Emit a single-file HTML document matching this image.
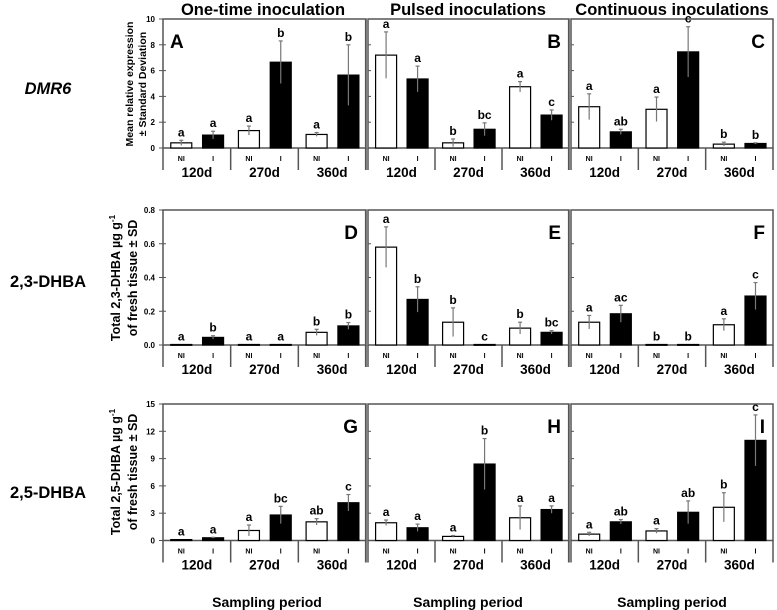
<!DOCTYPE html>
<html><head><meta charset="utf-8"><style>
body{margin:0;background:#fff}
svg{display:block;font-family:"Liberation Sans",Arial,sans-serif;font-weight:bold}
</style></head><body>
<svg id="fig" width="777" height="610" viewBox="0 0 777 610" xmlns="http://www.w3.org/2000/svg">
<text x="263" y="15" text-anchor="middle" font-size="16.5">One-time  inoculation</text>
<text x="468" y="15" text-anchor="middle" font-size="16.5">Pulsed  inoculations</text>
<text x="672" y="15" text-anchor="middle" font-size="16.5">Continuous  inoculations</text>
<text x="48" y="94" text-anchor="middle" font-size="16.5" font-style="italic">DMR6</text>
<text x="48" y="287" text-anchor="middle" font-size="16.5">2,3-DHBA</text>
<text x="48" y="498" text-anchor="middle" font-size="16.5">2,5-DHBA</text>
<g transform="translate(133,84) rotate(-90)" font-size="10.5" text-anchor="middle"><text x="0" y="0">Mean relative expression</text><text x="0" y="13">± Standard Deviation</text></g>
<g transform="translate(120,278) rotate(-90)" font-size="12.5" text-anchor="middle"><text x="0" y="0">Total 2,3-DHBA µg g<tspan dy="-5" font-size="8">-1</tspan></text><text x="0" y="17">of fresh tissue ± SD</text></g>
<g transform="translate(120,472) rotate(-90)" font-size="12.5" text-anchor="middle"><text x="0" y="0">Total 2,5-DHBA µg g<tspan dy="-5" font-size="8">-1</tspan></text><text x="0" y="17">of fresh tissue ± SD</text></g>
<text x="267" y="607" text-anchor="middle" font-size="14">Sampling period</text>
<text x="468" y="607" text-anchor="middle" font-size="14">Sampling period</text>
<text x="672" y="607" text-anchor="middle" font-size="14">Sampling period</text>
</svg>
<script>
const periods=["120d","270d","360d"];
const treatments=["NI","I"];
const rowMax=[10,0.8,15];
const rowTicks=[[0,2,4,6,8,10],[0,0.2,0.4,0.6,0.8],[0,3,6,9,12,15]];
const rowTickLabels=[["0","2","4","6","8","10"],["0.0","0.2","0.4","0.6","0.8"],["0","3","6","9","12","15"]];
const panelLetters=["A","B","C","D","E","F","G","H","I"];
// values per panel: [120NI,120I,270NI,270I,360NI,360I]
const valA=[0.4,1.0,1.35,6.65,1.05,5.65], errA=[0.2,0.3,0.35,1.65,0.15,2.35], letA=["a","a","a","b","a","b"];
const valB=[7.2,5.35,0.4,1.45,4.75,2.55], errB=[1.8,1.0,0.3,0.5,0.4,0.4], letB=["a","a","b","bc","a","c"];
const valC=[3.2,1.25,3.0,7.45,0.3,0.35], errC=[1.0,0.2,0.95,1.95,0.15,0.05], letC=["a","ab","a","c","b","b"];
const valD=[0.003,0.045,0.003,0.003,0.075,0.113], errD=[0,0.01,0,0,0.018,0.02], letD=["a","b","a","a","b","b"];
const valE=[0.58,0.27,0.135,0.003,0.1,0.075], errE=[0.12,0.075,0.085,0,0.035,0.01], letE=["a","b","b","c","b","bc"];
const valF=[0.135,0.185,0.003,0.003,0.12,0.29], errF=[0.04,0.05,0,0,0.035,0.08], letF=["a","ac","b","b","a","c"];
const valG=[0.1,0.3,1.1,2.8,2.05,4.15], errG=[0,0.05,0.6,0.95,0.35,0.9], letG=["a","a","a","bc","ab","c"];
const valH=[1.95,1.4,0.45,8.4,2.5,3.4], errH=[0.3,0.4,0.1,2.8,1.3,0.4], letH=["a","a","a","b","a","a"];
const valI=[0.7,2.05,1.05,3.1,3.65,11.0], errI=[0.2,0.25,0.25,1.25,1.6,2.8], letI=["a","ab","a","ab","b","c"];
const vals=[valA,valB,valC,valD,valE,valF,valG,valH,valI];
const errs=[errA,errB,errC,errD,errE,errF,errG,errH,errI];
const lets=[letA,letB,letC,letD,letE,letF,letG,letH,letI];

const NS="http://www.w3.org/2000/svg";
const svg=document.getElementById("fig");
function mk(t,a,p){const e=document.createElementNS(NS,t);for(const k in a)e.setAttribute(k,a[k]);(p||svg).appendChild(e);return e;}
const rowTop=[19,210,404], rowBase=[148,345,540.5];
const colL=[163,368,571], colR=[366,569,773];
for(let r=0;r<3;r++){
  const yS=v=>rowBase[r]-v/rowMax[r]*(rowBase[r]-rowTop[r]);
  rowTicks[r].forEach((t,i)=>{
    const lab=mk("text",{x:colL[0]-8,y:yS(t)+3,"font-size":8,"text-anchor":"end"});
    
    
    lab.textContent=rowTickLabels[r][i];
  });
  for(let c=0;c<3;c++){
    const p=r*3+c;
    const g=mk("g",{});
    
    
    const L=colL[c],R=colR[c],T=rowTop[r],B=rowBase[r];
    mk("rect",{x:L,y:T,width:R-L,height:B-T,fill:"none",stroke:"#555","stroke-width":1.5},g);
    if(c>0) mk("line",{x1:L-2.5,y1:T,x2:L-2.5,y2:B+22,stroke:"#555","stroke-width":1.2},g);
    mk("line",{x1:L,y1:B,x2:L,y2:B+22,stroke:"#555","stroke-width":1.5},g);
    mk("line",{x1:R,y1:B,x2:R,y2:B+22,stroke:"#555","stroke-width":1.5},g);
    rowTicks[r].forEach(t=>{mk("line",{x1:L-(c==0?4:0),y1:yS(t),x2:L+3,y2:yS(t),stroke:"#555","stroke-width":1},g);});
    const lt=p==0?mk("text",{x:L+7,y:T+29,"font-size":19,"text-anchor":"start"},g):mk("text",{x:R-8,y:T+29,"font-size":19,"text-anchor":"end"},g);
    
    
    lt.textContent=panelLetters[p];
    const gw=(R-L)/3;
    for(let k=0;k<3;k++){
      const gx=L+k*gw;
      if(k>0) mk("line",{x1:gx,y1:B,x2:gx,y2:B+22,stroke:"#555","stroke-width":1.5},g);
      const pl=mk("text",{x:gx+gw/2,y:B+29,"font-size":13.5,"text-anchor":"middle"},g);
      
      
      pl.textContent=periods[k];
      for(let j=0;j<2;j++){
        const i=k*2+j;
        const cx=gx+gw*(j==0?0.27:0.74);
        const bw=21;
        const v=vals[p][i],e=errs[p][i];
        const y=yS(v);
        const bar=mk("rect",{x:cx-bw/2,y:y,width:bw,height:Math.max(B-y,0.8),fill:j==0?"#fff":"#000",stroke:"#000","stroke-width":1.2},g);
        
        
        if(e>0){
          mk("line",{x1:cx,y1:yS(v+e),x2:cx,y2:yS(Math.max(v-e,0)),stroke:"#777","stroke-width":1.2},g);
          mk("line",{x1:cx-2,y1:yS(v+e),x2:cx+2,y2:yS(v+e),stroke:"#777","stroke-width":1.2},g);
        }
        const sl=mk("text",{x:cx,y:yS(v+e)-4,"font-size":12,"text-anchor":"middle"},g);
        
        
        sl.textContent=lets[p][i];
        const tl=mk("text",{x:cx,y:B+13,"font-size":7,"text-anchor":"middle"},g);
        
        
        tl.textContent=treatments[j];
      }
    }
  }
}
</script>
</body></html>
